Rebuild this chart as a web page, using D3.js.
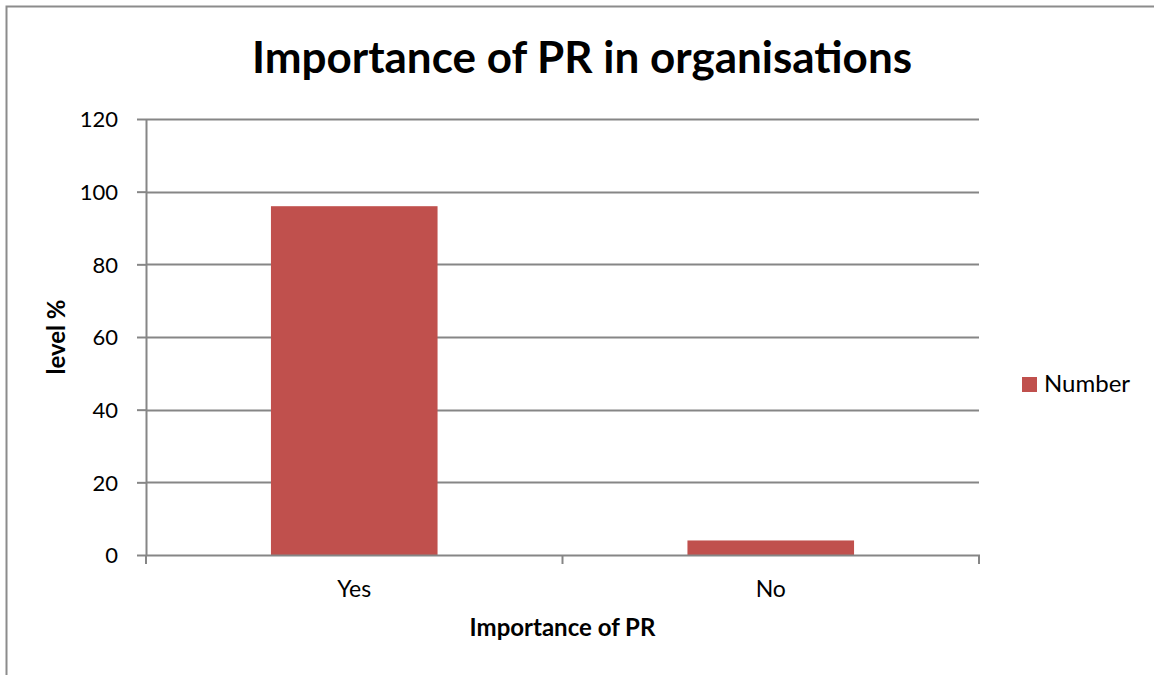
<!DOCTYPE html>
<html>
<head>
<meta charset="utf-8">
<script src="https://cdn.jsdelivr.net/npm/d3@7"></script>
<style>
  html, body { margin: 0; padding: 0; background: #fff; }
  svg { display: block; }
  text { font-family: Lato, "Open Sans", "Liberation Sans", sans-serif; fill: #000; }
</style>
</head>
<body>
<svg id="chart" width="1154" height="675"></svg>
<script>
// Survey answers and their share (%)
const categories = ["Yes", "No"];
const values = [96, 4];
const yTicks = [0, 20, 40, 60, 80, 100, 120];
const seriesName = "Number";
const titleText = "Importance of PR in organisations";
const xTitle = "Importance of PR";
const yTitle = "level %";

const W = 1154, H = 675;
const plot = { left: 146, right: 979, top: 119, bottom: 555 };
const barColor = "#C0504D";
const axisColor = "#868686";
const fs = 22;

const svg = d3.select("#chart");

// outer chart frame
svg.append("rect")
  .attr("x", 6.5).attr("y", 6.5)
  .attr("width", W + 10).attr("height", H + 10)
  .attr("fill", "#fff").attr("stroke", "#8c8c8c").attr("stroke-width", 2);

const x = d3.scaleBand().domain(categories).range([plot.left, plot.right]).padding(0);
const y = d3.scaleLinear().domain([0, 120]).range([plot.bottom, plot.top]);

// horizontal gridlines
svg.append("g").selectAll("line").data(yTicks.filter(t => t > 0)).join("line")
  .attr("x1", plot.left).attr("x2", plot.right)
  .attr("y1", d => Math.round(y(d)) + 0.5).attr("y2", d => Math.round(y(d)) + 0.5)
  .attr("stroke", axisColor).attr("stroke-width", 2);

// bars: 40% of each category slot, centred
const barW = x.bandwidth() * 0.4;
svg.append("g").selectAll("rect").data(values).join("rect")
  .attr("x", (d, i) => x(categories[i]) + (x.bandwidth() - barW) / 2)
  .attr("width", barW)
  .attr("y", d => y(d))
  .attr("height", d => y(0) - y(d))
  .attr("fill", barColor);

// y axis
const yAxis = d3.axisLeft(y).tickValues(yTicks).tickSize(9).tickPadding(19);
const gy = svg.append("g").attr("transform", `translate(${plot.left},0)`).call(yAxis);
gy.select(".domain").attr("stroke", axisColor).attr("stroke-width", 2)
  .attr("d", `M0.5,${plot.top}V${plot.bottom}`);
gy.selectAll(".tick line").attr("stroke", axisColor).attr("stroke-width", 2);
gy.selectAll(".tick text").attr("font-size", fs).attr("font-family", "Lato, 'Open Sans', sans-serif")
  .attr("fill", "#000").attr("dy", "0.35em");

// x axis with ticks at category boundaries
const gx = svg.append("g").attr("transform", `translate(0,${plot.bottom})`);
gx.append("line").attr("x1", plot.left).attr("x2", plot.right + 1)
  .attr("y1", 0.5).attr("y2", 0.5).attr("stroke", axisColor).attr("stroke-width", 2);
const bounds = categories.map(c => x(c)).concat([plot.right]);
gx.selectAll("line.tk").data(bounds).join("line").attr("class", "tk")
  .attr("x1", d => d).attr("x2", d => d).attr("y1", 0).attr("y2", 9)
  .attr("stroke", axisColor).attr("stroke-width", 2);
gx.selectAll("text").data(categories).join("text")
  .attr("x", d => x(d) + x.bandwidth() / 2).attr("y", 42)
  .attr("text-anchor", "middle").attr("font-size", fs + 1).text(d => d);

// titles
svg.append("text").attr("x", 582).attr("y", 73).attr("text-anchor", "middle")
  .attr("font-size", 44).attr("font-weight", "bold").text(titleText);
svg.append("text").attr("x", (plot.left + plot.right) / 2).attr("y", 636)
  .attr("text-anchor", "middle").attr("font-size", 24).attr("font-weight", "bold").text(xTitle);
svg.append("text").attr("transform", `translate(65,${(plot.top + plot.bottom) / 2}) rotate(-90)`)
  .attr("text-anchor", "middle").attr("font-size", 24).attr("font-weight", "bold").text(yTitle);

// legend
const lg = svg.append("g").attr("transform", "translate(1022,377)");
lg.append("rect").attr("width", 15).attr("height", 15).attr("fill", barColor);
lg.append("text").attr("x", 22).attr("y", 15).attr("font-size", 24).text(seriesName);
</script>
</body>
</html>
